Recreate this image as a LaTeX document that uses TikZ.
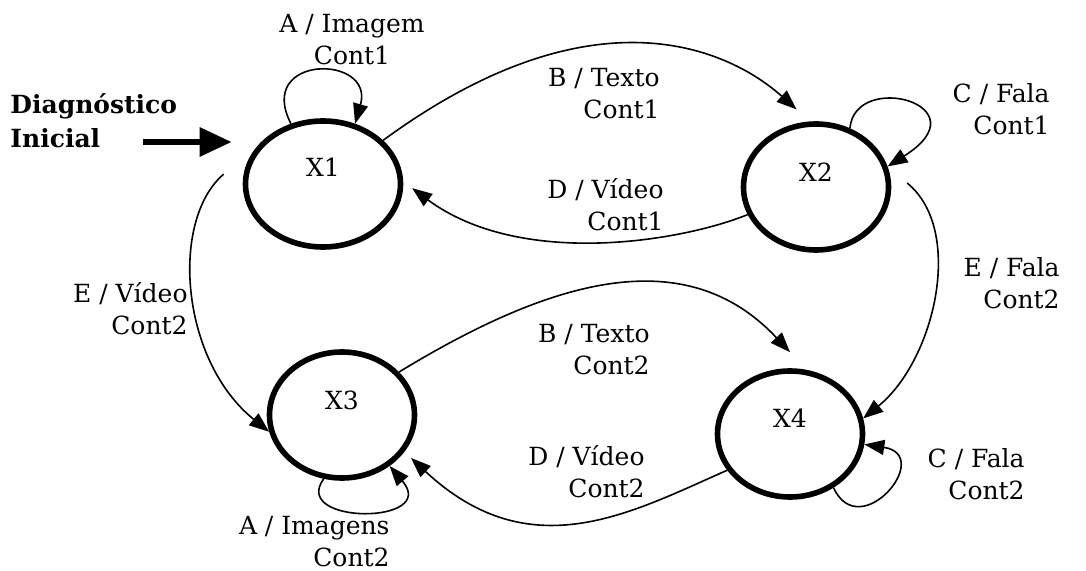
\documentclass[tikz,border=0pt]{standalone}
\usepackage{fontspec}
\setmainfont{DejaVu Serif}
\usetikzlibrary{arrows.meta, shapes.geometric}

\tikzset{
  estado/.style={ellipse, draw, line width=2.8pt, minimum width=72.5pt, minimum height=63pt, inner sep=0pt},
  trans/.style={line width=0.8pt, -{Triangle[length=10pt,width=7.5pt]}},
  rotulo/.style={align=right, inner sep=0pt},
}

\begin{document}
\begin{tikzpicture}[x=0.5pt,y=-0.5pt,font=\fontsize{12.5}{16}\selectfont]
\useasboundingbox (0,0) rectangle (1086,571);

% estados
\node[estado,minimum width=77.5pt,label={[yshift=8.5pt]center:X1}] (x1) at (323,184) {};
\node[estado,label={[yshift=7.5pt]center:X2}] (x2) at (816,187) {};
\node[estado,label={[yshift=7.5pt]center:X3}] (x3) at (342,415) {};
\node[estado,label={[yshift=8pt]center:X4}] (x4) at (790,434) {};

% entrada
\node[font=\bfseries\fontsize{12.5}{17}\selectfont, align=left, anchor=west, inner sep=0pt] (diag) at (10,120.5) {Diagnóstico\\Inicial};
\coordinate (ini) at (143,142);
\draw[line width=3pt, -{Triangle[length=16pt,width=14pt]}] (ini) -- ([xshift=-5.5pt]ini -| x1.west);

% transicoes
\draw[trans] (x1.118) .. controls (255,54) and (375,54) .. (x1.62);
\draw[trans] (x1.36) .. controls (595,-15) and (730,50) .. ([yshift=7pt]x2.107);
\draw[trans] (x2.202) .. controls (680,242) and (520,268) .. ([xshift=4.5pt]x1.-3);
\draw[trans] (x2.60) .. controls (855,70) and (985,105) .. (x2.16);
\draw[trans] ([xshift=8pt]x2.3) .. controls (965,230) and (935,360) .. (x4.12);
\draw[trans] ([xshift=-10pt]x1.173) .. controls (170,220) and (180,360) .. (x3.193);
\draw[trans] (x3.37) .. controls (550,280) and (685,240) .. ([yshift=8pt]x4.90);
\draw[trans] (x4.210) .. controls (630,513) and (530,569) .. ([xshift=6pt]x3.-37);
\draw[trans] (x3.254) .. controls (290,525) and (440,525) .. (x3.313);
\draw[trans] (x4.-51) .. controls (860,545) and (935,455) .. (x4.-8);

% rotulos
\node[rotulo,align=center] (la1) at (352,39.5) {A / Imagem\\Cont1};
\node[rotulo,anchor=east] (lb1) at (660,93.5) {B / Texto\\Cont1};
\node[rotulo,anchor=east] (lc1) at (1050,109.5) {C / Fala\\Cont1};
\node[rotulo,anchor=east] (ld1) at (664,204.5) {D / Vídeo\\Cont1};
\node[rotulo,anchor=east] (le1) at (188,308.5) {E / Vídeo\\Cont2};
\node[rotulo,anchor=east] (le2) at (1060,283.5) {E / Fala\\Cont2};
\node[rotulo,anchor=east] (lb2) at (650,349.5) {B / Texto\\Cont2};
\node[rotulo,anchor=east] (ld2) at (645,471.5) {D / Vídeo\\Cont2};
\node[rotulo,anchor=east] (lc2) at (1025,474.5) {C / Fala\\Cont2};
\node[rotulo,anchor=east] (la2) at (390,541.5) {A / Imagens\\Cont2};

\end{tikzpicture}
\end{document}
